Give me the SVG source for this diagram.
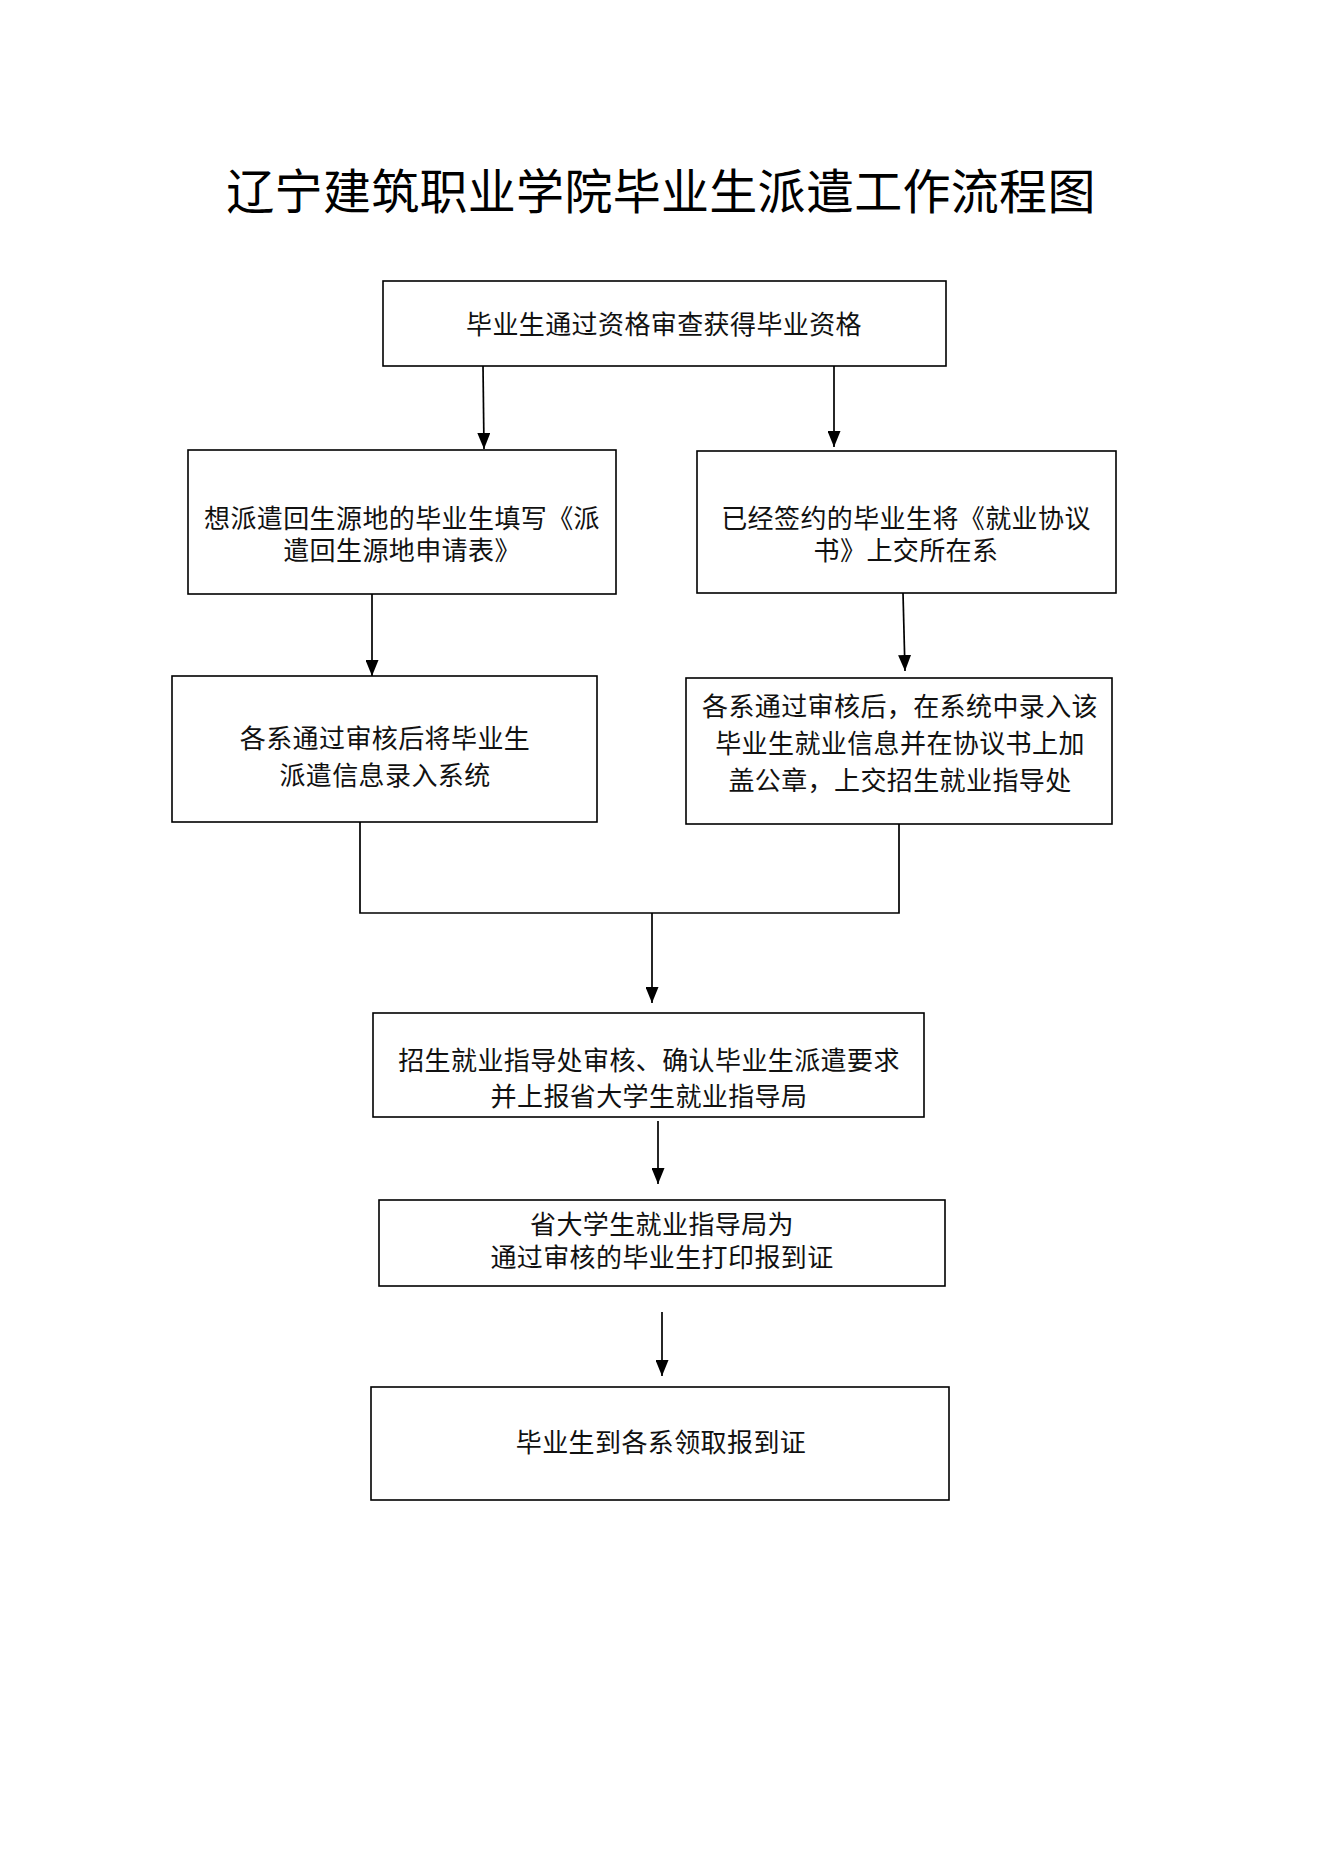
<svg xmlns="http://www.w3.org/2000/svg" width="1322" height="1871" viewBox="0 0 1322 1871">
<style>
.bg{fill:#ffffff}
.box{fill:#ffffff;stroke:#000000;stroke-width:1.6}
.t{font-family:'Liberation Serif','Noto Sans CJK SC',serif;font-size:26px;letter-spacing:0.4px;fill:#111111;text-anchor:middle}
.title{font-family:'Liberation Serif','Noto Sans CJK SC',serif;font-size:48px;letter-spacing:0.3px;fill:#000000;text-anchor:middle}
.ln{fill:none;stroke:#000000;stroke-width:1.7}
</style>
<defs>
<marker id="ah" markerUnits="userSpaceOnUse" markerWidth="16" markerHeight="13" refX="16" refY="6.5" orient="auto" viewBox="0 0 16 13">
<path d="M0,0 L16,6.5 L0,13 z" fill="#000000"/>
</marker>
</defs>
<rect class="bg" x="0" y="0" width="1322" height="1871"/>
<text class="title" x="661" y="209">辽宁建筑职业学院毕业生派遣工作流程图</text>

<g id="connectors">
<line class="ln" x1="483" y1="366" x2="484" y2="449" marker-end="url(#ah)"/>
<line class="ln" x1="834" y1="366" x2="834" y2="447" marker-end="url(#ah)"/>
<line class="ln" x1="372" y1="594" x2="372" y2="676" marker-end="url(#ah)"/>
<line class="ln" x1="903" y1="593" x2="905" y2="671" marker-end="url(#ah)"/>
<polyline class="ln" points="360,822 360,913 899,913 899,824"/>
<line class="ln" x1="652" y1="913" x2="652" y2="1003" marker-end="url(#ah)"/>
<line class="ln" x1="658" y1="1121" x2="658" y2="1184" marker-end="url(#ah)"/>
<line class="ln" x1="662" y1="1312" x2="662" y2="1376" marker-end="url(#ah)"/>
</g>

<g id="n1">
<rect class="box" x="383" y="281" width="563" height="85"/>
<text class="t" x="664" y="334">毕业生通过资格审查获得毕业资格</text>
</g>

<g id="n2">
<rect class="box" x="188" y="450" width="428" height="144"/>
<text class="t" x="402" y="528">想派遣回生源地的毕业生填写《派</text>
<text class="t" x="402" y="560">遣回生源地申请表》</text>
</g>

<g id="n3">
<rect class="box" x="697" y="451" width="419" height="142"/>
<text class="t" x="906" y="528">已经签约的毕业生将《就业协议</text>
<text class="t" x="906" y="560">书》上交所在系</text>
</g>

<g id="n4">
<rect class="box" x="172" y="676" width="425" height="146"/>
<text class="t" x="385" y="748">各系通过审核后将毕业生</text>
<text class="t" x="385" y="785">派遣信息录入系统</text>
</g>

<g id="n5">
<rect class="box" x="686" y="678" width="426" height="146"/>
<text class="t" x="900" y="716">各系通过审核后，在系统中录入该</text>
<text class="t" x="900" y="753">毕业生就业信息并在协议书上加</text>
<text class="t" x="900" y="790">盖公章，上交招生就业指导处</text>
</g>

<g id="n6">
<rect class="box" x="373" y="1013" width="551" height="104"/>
<text class="t" x="649" y="1070">招生就业指导处审核、确认毕业生派遣要求</text>
<text class="t" x="649" y="1106">并上报省大学生就业指导局</text>
</g>

<g id="n7">
<rect class="box" x="379" y="1200" width="566" height="86"/>
<text class="t" x="662" y="1234">省大学生就业指导局为</text>
<text class="t" x="662" y="1267">通过审核的毕业生打印报到证</text>
</g>

<g id="n8">
<rect class="box" x="371" y="1387" width="578" height="113"/>
<text class="t" x="661" y="1452">毕业生到各系领取报到证</text>
</g>
</svg>
